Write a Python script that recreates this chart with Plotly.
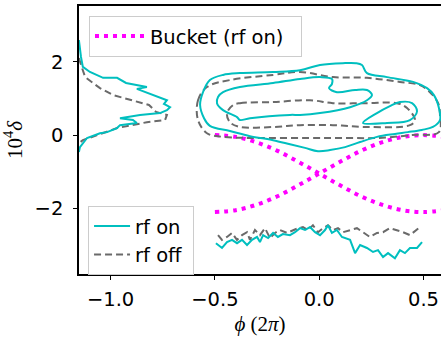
import plotly.graph_objects as go

# ---- data (phi in units of 2pi, delta in units of 1e-4) ----
bucket_phi = [-0.5, -0.4, -0.3, -0.2, -0.1, 0.0, 0.1, 0.2, 0.3, 0.4, 0.5, 0.6]
bucket_upper = [0.00, -0.05, -0.20, -0.43, -0.73, -1.05, -1.37, -1.67, -1.90, -2.05, -2.10, -2.05]
bucket_lower = [-2.10, -2.05, -1.90, -1.67, -1.37, -1.05, -0.73, -0.43, -0.20, -0.05, 0.00, -0.05]

# momentum profile (drawn sideways at left)
prof_on_x = [-1.152, -1.147, -1.142, -1.133, -1.099, -1.036, -0.969, -0.926, -0.874, -0.826, -0.874,
             -0.826, -0.763, -0.730, -0.744, -0.715, -0.730, -0.763, -0.859, -0.955, -0.893, -0.874,
             -0.955, -0.969, -1.017, -1.051, -1.113, -1.147, -1.152]
prof_on_y = [2.59, 2.32, 2.13, 1.86, 1.72, 1.56, 1.56, 1.42, 1.36, 1.31, 1.26,
             1.15, 1.01, 0.95, 0.85, 0.76, 0.68, 0.60, 0.55, 0.46, 0.41, 0.33,
             0.27, 0.19, 0.08, 0.05, -0.08, -0.33, -0.46]
prof_off_x = [-1.152, -1.147, -1.137, -1.122, -1.084, -1.051, -0.988, -0.893, -0.816, -0.782, -0.730,
              -0.739, -0.826, -0.969, -1.065, -1.133, -1.152]
prof_off_y = [2.10, 1.99, 1.83, 1.58, 1.42, 1.28, 1.09, 0.95, 0.82, 0.63, 0.55,
              0.41, 0.35, 0.19, 0.00, -0.14, -0.22]

# phase profile (drawn below)
phase_on_x = [-0.495, -0.466, -0.442, -0.418, -0.394, -0.370, -0.346, -0.322, -0.298, -0.284, -0.269,
              -0.245, -0.221, -0.198, -0.174, -0.140, -0.116, -0.092, -0.068, -0.044, -0.020, 0.004,
              0.028, 0.042, 0.061, 0.085, 0.109, 0.124, 0.148, 0.172, 0.196, 0.229, 0.258, 0.282,
              0.306, 0.330, 0.363, 0.387, 0.411, 0.435, 0.469, 0.493]
phase_on_y = [-2.95, -3.08, -2.92, -2.86, -2.95, -2.86, -3.00, -2.86, -2.78, -2.92, -2.73,
              -2.81, -2.67, -2.78, -2.70, -2.73, -2.65, -2.54, -2.59, -2.51, -2.65, -2.73,
              -2.59, -2.46, -2.67, -2.59, -2.78, -2.81, -2.86, -3.22, -3.00, -3.08, -3.19, -3.14,
              -3.33, -3.22, -3.36, -3.14, -3.22, -3.08, -3.08, -2.92]
phase_off_x = [-0.485, -0.466, -0.442, -0.418, -0.394, -0.370, -0.346, -0.332, -0.308, -0.284, -0.260,
               -0.236, -0.212, -0.188, -0.154, -0.126, -0.102, -0.078, -0.054, -0.030, -0.006, 0.018,
               0.042, 0.066, 0.090, 0.114, 0.148, 0.181, 0.210, 0.243, 0.277, 0.306, 0.339, 0.373,
               0.402, 0.435, 0.469, 0.483]
phase_off_y = [-2.73, -2.86, -2.78, -2.67, -2.86, -2.73, -2.65, -2.86, -2.59, -2.73, -2.54,
               -2.81, -2.67, -2.59, -2.67, -2.59, -2.54, -2.51, -2.59, -2.46, -2.65, -2.54,
               -2.46, -2.59, -2.54, -2.65, -2.59, -2.54, -2.65, -2.78, -2.67, -2.65, -2.54, -2.59,
               -2.65, -2.73, -2.59, -2.51]

# contours, rf on (solid)
on_outer_x = [-0.571, -0.557, -0.524, -0.461, -0.380, -0.221, -0.092, 0.004, 0.114, 0.176, 0.205,
              0.229, 0.325, 0.450, 0.517, 0.550, 0.574, 0.579, 0.545, 0.492, 0.425, 0.363, 0.277,
              0.196, 0.124, 0.052, -0.006, -0.068, -0.140, -0.221, -0.332, -0.428, -0.524, -0.552, -0.571]
on_outer_y = [0.82, 1.17, 1.50, 1.64, 1.69, 1.72, 1.77, 1.91, 1.96, 1.96, 1.91,
              1.69, 1.58, 1.45, 1.28, 1.09, 0.74, 0.41, 0.22, 0.14, 0.08, 0.03, -0.05,
              -0.19, -0.33, -0.41, -0.44, -0.35, -0.25, -0.14, -0.03, 0.11, 0.25, 0.46, 0.82]
on_inner_x = [-0.485, -0.461, -0.380, -0.221, -0.092, 0.004, 0.061, 0.061, 0.047, 0.085, 0.172,
              0.229, 0.253, 0.229, 0.148, 0.004, -0.092, -0.140, -0.332, -0.380, -0.394, -0.461,
              -0.490, -0.485]
on_inner_y = [1.04, 1.17, 1.31, 1.42, 1.53, 1.58, 1.53, 1.39, 1.28, 1.17, 1.23,
              1.23, 1.09, 0.95, 0.76, 0.60, 0.55, 0.55, 0.46, 0.41, 0.49, 0.68,
              0.87, 1.04]
on_lobe_x = [0.210, 0.277, 0.339, 0.387, 0.445, 0.469, 0.435, 0.325, 0.210]
on_lobe_y = [0.33, 0.60, 0.79, 0.90, 0.87, 0.65, 0.41, 0.33, 0.33]

# contours, rf off (dashed)
off_outer_x = [-0.581, -0.581, -0.538, -0.428, -0.221, -0.092, 0.066, 0.229, 0.387, 0.483, 0.531,
               0.570, 0.579, 0.574, 0.445, 0.287, 0.124, -0.058, -0.298, -0.461, -0.538, -0.581]
off_outer_y = [0.41, 0.95, 1.31, 1.50, 1.64, 1.72, 1.58, 1.56, 1.45, 1.36, 1.17,
               0.87, 0.55, 0.08, 0.00, -0.08, -0.08, -0.08, -0.08, -0.05, 0.05, 0.41]
off_inner_x = [-0.412, -0.380, -0.221, -0.044, 0.066, 0.229, 0.373, 0.421, 0.459, 0.435, 0.229,
               0.066, -0.092, -0.221, -0.380, -0.428, -0.442, -0.412]
off_inner_y = [0.82, 0.87, 0.90, 0.95, 0.87, 0.87, 0.87, 0.74, 0.41, 0.27, 0.22,
               0.27, 0.27, 0.22, 0.22, 0.35, 0.60, 0.82]

x_ticks = [-1.0, -0.5, 0.0, 0.5]
x_ticklabels = ["\u22121.0", "\u22120.5", "0.0", "0.5"]
y_ticks = [-2, 0, 2]
y_ticklabels = ["\u22122", "0", "2"]

CYAN = "#00BFBF"
GRAY = "#6A6A6A"
MAG = "#FF00FF"
DASH = "7px,4px"

fig = go.Figure()

def add(x, y, color, dash, name=None, legend="legend", show=False, shape="linear", width=2):
    fig.add_trace(go.Scatter(
        x=x, y=y, mode="lines", name=name, showlegend=show, legend=legend,
        line=dict(color=color, width=width, dash=dash, shape=shape),
        hoverinfo="skip"))

# bucket
add(bucket_phi, bucket_upper, MAG, "4px,5px", name="Bucket (rf on)\u00a0\u00a0", legend="legend",
    show=True, shape="spline", width=4)
add(bucket_phi, bucket_lower, MAG, "4px,5px", shape="spline", width=4)

# profiles
add(prof_off_x, prof_off_y, GRAY, DASH)
add(prof_on_x, prof_on_y, CYAN, "solid")
add(phase_off_x, phase_off_y, GRAY, DASH)
add(phase_on_x, phase_on_y, CYAN, "solid")

# contours
add(off_outer_x, off_outer_y, GRAY, DASH, shape="spline")
add(off_inner_x, off_inner_y, GRAY, DASH, shape="spline")
add(on_outer_x, on_outer_y, CYAN, "solid", shape="spline")
add(on_inner_x, on_inner_y, CYAN, "solid", shape="spline")
add(on_lobe_x, on_lobe_y, CYAN, "solid", shape="spline")

# legend-only entries for second legend
add([None], [None], CYAN, "solid", name="rf on\u00a0", legend="legend2", show=True)
add([None], [None], GRAY, DASH, name="rf off\u00a0", legend="legend2", show=True)

FONT = "DejaVu Sans"
fs = 19.5

fig.update_layout(
    width=442, height=337,
    margin=dict(l=79, r=1, t=6, b=63),
    plot_bgcolor="white", paper_bgcolor="white",
    font=dict(family=FONT, size=fs, color="black"),
    xaxis=dict(range=[-1.1515, 0.5839], showgrid=False, zeroline=False,
               showline=True, linecolor="black", linewidth=1.5, mirror=True,
               ticks="outside", ticklen=4, tickwidth=1.2, tickcolor="black",
               tickvals=x_ticks, ticktext=x_ticklabels, ticklabelstandoff=3,
               title=dict(text="<i>ϕ</i> (2<i>π</i>)",
                          font=dict(family="Liberation Serif", size=21), standoff=6)),
    yaxis=dict(range=[-3.79, 3.52], showgrid=False, zeroline=False,
               showline=True, linecolor="black", linewidth=1.5,
               ticks="outside", ticklen=4, tickwidth=1.2, tickcolor="black",
               tickvals=y_ticks, ticktext=y_ticklabels, ticklabelstandoff=6,
               title=dict(text="10<sup>4</sup><i>δ</i>",
                          font=dict(family="Liberation Serif", size=21), standoff=7)),
    legend=dict(x=0.0276, y=0.963, xanchor="left", yanchor="top", itemwidth=50,
                bgcolor="rgba(255,255,255,0.8)", bordercolor="#CCCCCC", borderwidth=1,
                font=dict(family=FONT, size=fs)),
    legend2=dict(x=0.025, y=0.254, xanchor="left", yanchor="top", itemwidth=36,
                 bgcolor="rgba(255,255,255,0.8)", bordercolor="#CCCCCC", borderwidth=1,
                 font=dict(family=FONT, size=fs)),
)

fig.write_html("out.html")
